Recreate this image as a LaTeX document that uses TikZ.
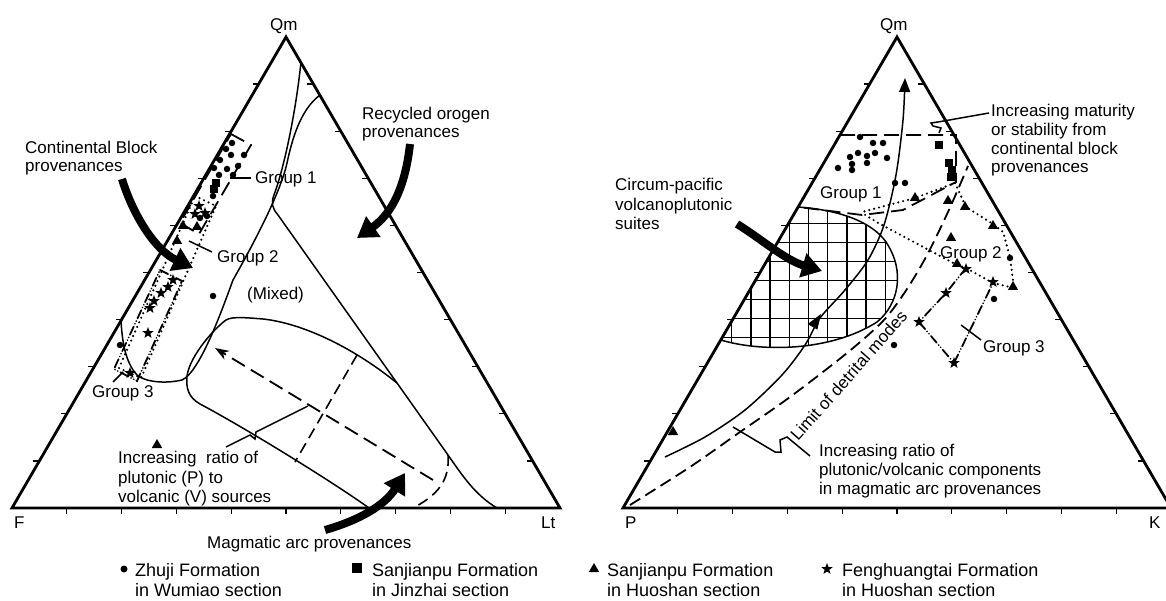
\documentclass[tikz,border=0pt]{standalone}
\usepackage{fontspec}
\setmainfont{Liberation Sans}
\usetikzlibrary{arrows.meta,shapes.geometric,calc}
\begin{document}
\begin{tikzpicture}[x=1pt,y=-1pt,
  frame/.style={line width=2.8pt,line join=miter},
  tickmark/.style={line width=1.3pt},
  bnd/.style={line width=1.5pt},
  grd/.style={line width=1.5pt},
  dsh/.style={line width=1.8pt,dash pattern=on 15pt off 7pt},
  dshs/.style={line width=1.6pt,dash pattern=on 11pt off 6pt},
  dshl/.style={line width=1.8pt,dash pattern=on 12pt off 6pt},
  dtl/.style={line width=2.4pt,dash pattern=on 0pt off 5pt,line cap=round},
  ddt/.style={line width=1.8pt,dash pattern=on 9pt off 3pt on 0pt off 3pt on 0pt off 3pt,line cap=round},
  pdot/.style={circle,fill=black,inner sep=0pt,minimum size=6.5pt},
  psq/.style={rectangle,fill=black,inner sep=0pt,minimum size=8.5pt},
  ptri/.style={regular polygon,regular polygon sides=3,fill=black,inner sep=0pt,minimum size=12pt},
  pstar/.style={star,star points=5,star point ratio=2.4,fill=black,inner sep=0pt,minimum size=12pt},
  bigarr/.style={line width=8pt,-{Triangle[length=20pt,width=24pt]}},
  lbl/.style={font=\fontsize{17}{20}\selectfont,inner sep=0pt,anchor=base west},
  leg/.style={font=\fontsize{18}{21}\selectfont,inner sep=0pt,anchor=base west},
]
\useasboundingbox (0,0) rectangle (1166,601);

% ================= LEFT TRIANGLE =================
\coordinate (F) at (12,508);
\coordinate (Lt) at (560,508);
\coordinate (QmL) at (286,37);
\draw[frame] (F) -- (Lt) -- (QmL) -- cycle;
\foreach \k in {1,...,9} {
  \draw[tickmark] ($(F)!\k/10!(QmL)$) -- ++(-6,0);
  \draw[tickmark] ($(Lt)!\k/10!(QmL)$) -- ++(-6,0);
  \draw[tickmark] ($(F)!\k/10!(Lt)$) -- ++(0,6);
}
\node[lbl] (tQmL) at (270,31) {Qm};
\node[lbl] (tF) at (14,528) {F};
\node[lbl] (tLt) at (541,528) {Lt};

% field boundaries
\draw[bnd] (301,62) .. controls (296,110) and (285,165) .. (274,195)
  .. controls (271,203) and (272,208) .. (278,215) -- (448,455)
  .. controls (462,475) and (475,495) .. (497,508);
\draw[bnd] (320,95) .. controls (300,110) and (292,140) .. (287,163)
  .. controls (280,195) and (250,250) .. (233,280)
  .. controls (222,310) and (200,372) .. (182,380)
  .. controls (165,384) and (145,382) .. (137,375)
  .. controls (125,362) and (122,340) .. (121,320);
% magmatic arc field
\draw[bnd] (369,508) .. controls (330,480) and (240,425) .. (200,404)
  .. controls (188,397) and (186,388) .. (187,376)
  .. controls (190,355) and (215,328) .. (226,320)
  .. controls (232,316) and (250,318) .. (263,319)
  .. controls (300,323) and (350,345) .. (397,383);
\draw[dshs] (448,455) .. controls (450,480) and (438,495) .. (413,508);
\draw[dshs] (357,355) -- (295,462);
\draw[dsh,-{Stealth[length=14pt,width=10pt]}] (433,480) -- (215,348);

% group outlines (left)
\draw[dsh] (231,134) -- (251,145) -- (199,234) -- (180,223) -- cycle;
\draw[dtl] (195,196) -- (216,206) -- (141,378) -- (119,368) -- cycle;
\draw[ddt] (160,270) -- (182,281) -- (137,381) -- (114,369) -- cycle;

% leaders (left)
\coordinate (g1a) at (230,178); \coordinate (g1b) at (251,178);
\draw[bnd] (g1a) -- (g1b);
\coordinate (g2a) at (189,241); \coordinate (g2b) at (212,252);
\draw[bnd] (g2a) -- (g2b);
\coordinate (g3a) at (113,382); \coordinate (g3b) at (123,372);
\draw[bnd] (g3a) -- (g3b);
\coordinate (ira) at (226,447); \coordinate (irb) at (308,406);
\draw[bnd] (ira) -- (250,435) -- (255,439) -- (256,432) -- (irb);

% data (left)
\foreach \x/\y [count=\i] in {232/143,226/149,244/155,231/155,220/160,238/166,214/168,227/169,233/175,219/175,213/196,207/216,200/218,120/345,213/296}
  \node[pdot] (ldot\i) at (\x,\y) {};
\foreach \x/\y [count=\i] in {216/183,214/189}
  \node[psq] (lsq\i) at (\x,\y) {};
\foreach \x/\y [count=\i] in {183/226,197/227,177/241,157/445}
  \node[ptri] (ltri\i) at (\x,\y) {};
\foreach \x/\y [count=\i] in {199/206,205/213,195/214,173/280,168/287,161/293,154/301,150/308,148/333,130/373}
  \node[pstar] (lstar\i) at (\x,\y) {};

% big arrows (left)
\draw[bigarr] (122,179) .. controls (133,215) and (155,250) .. (193,268);
\draw[bigarr] (410,144) .. controls (405,190) and (390,215) .. (357,238);
\draw[bigarr] (325,530) .. controls (360,520) and (385,505) .. (405,473);

% labels (left)
\node[lbl] (cb1) at (25,154) {Continental Block};
\node[lbl] (cb2) at (25,172) {provenances};
\node[lbl] (ro1) at (362,120) {Recycled orogen};
\node[lbl] (ro2) at (362,138) {provenances};
\node[lbl] (mx) at (247,299) {(Mixed)};
\node[lbl] (ir1) at (118,463) {Increasing\ \ ratio of};
\node[lbl] (ir2) at (118,483) {plutonic (P) to};
\node[lbl] (ir3) at (118,502) {volcanic (V) sources};
\node[lbl] (ma) at (207,548) {Magmatic arc provenances};
\node[lbl] (g1L) at (255,184) {Group 1};
\node[lbl] (g2L) at (217,263) {Group 2};
\node[lbl] (g3L) at (92,397) {Group 3};

% ================= RIGHT TRIANGLE =================
\coordinate (P) at (623,508);
\coordinate (K) at (1171,508);
\coordinate (QmR) at (897,37);

% hatched field
\begin{scope}
\clip (798,207) -- (721,340) .. controls (760,352) and (830,352) .. (877,322)
  .. controls (898,305) and (906,272) .. (886,242)
  .. controls (872,222) and (840,210) .. (798,207) -- cycle;
\foreach \gx in {0,...,10} \draw[grd] ({712.5+19.2*\gx},195) -- ++(0,170);
\foreach \gy in {0,...,7} \draw[grd] (700,{204.3+19*\gy}) -- ++(220,0);
\end{scope}
\draw[bnd] (798,207) -- (721,340) .. controls (760,352) and (830,352) .. (877,322)
  .. controls (898,305) and (906,272) .. (886,242)
  .. controls (872,222) and (840,210) .. (798,207);

\draw[frame] (P) -- (K) -- (QmR) -- cycle;
\foreach \k in {1,...,9} {
  \draw[tickmark] ($(P)!\k/10!(QmR)$) -- ++(-6,0);
  \draw[tickmark] ($(K)!\k/10!(QmR)$) -- ++(-6,0);
  \draw[tickmark] ($(P)!\k/10!(K)$) -- ++(0,6);
}
\node[lbl] (tQmR) at (880,31) {Qm};
\node[lbl] (tP) at (625,528) {P};
\node[lbl] (tK) at (1149,528) {K};

% trend arrow
\draw[bnd,-{Triangle[length=14pt,width=11pt]}] plot[smooth] coordinates {(665,457) (705,437) (745,410) (782,375) (805,345) (820,318) (845,290) (868,260) (884,225) (896,175) (903,120) (905,78)};
\fill (821,314) -- (817.3,329.6) -- (807.7,324.1) -- cycle;

% limit of detrital modes
\draw[dshl] plot[smooth] coordinates {(630,505) (690,467) (740,432) (790,397) (847,353) (883,321) (905,292) (926,257) (948,212) (968,166)};
\node[lbl,rotate=48.5] (lim) at (798,442) {Limit of detrital modes};

% group outlines (right)
\draw[dsh] (840,135) -- (956,135) -- (956,182) -- (903,210) -- (862,215) -- (798,207);
\draw[dtl] (955,183) -- (915,198) -- (862,212);
\draw[dtl] (955,183) -- (966,207) -- (993,224) -- (1003,232) -- (1010,257) -- (1014,288) -- (993,283) -- (966,268) -- (957,265) -- (880,224) -- (862,213);
\draw[ddt] (966,268) -- (946,293) -- (919,322) -- (954,363) -- (993,283);

% leaders (right)
\coordinate (ima) at (989,113); \coordinate (imb) at (939,133);
\draw[bnd] (ima) -- (938,122) -- (931,123) -- (933,126) -- (941,128) -- (imb);
\coordinate (rra) at (733,427); \coordinate (rrb) at (810,456);
\draw[bnd] (rra) -- (775,452) -- (781,452) -- (780,440) -- (787,437) -- (rrb);
\coordinate (g3ra) at (961,325); \coordinate (g3rb) at (981,340);
\draw[bnd] (g3ra) -- (g3rb);

% data (right)
\foreach \x/\y [count=\i] in {860/137,873/143,883/143,858/153,875/153,850/157,867/156,887/158,852/164,867/163,838/168,852/170,895/183,905/183,1010/258,994/299,894/345}
  \node[pdot] (rdot\i) at (\x,\y) {};
\foreach \x/\y [count=\i] in {939/145,949/163,952/170,951/177}
  \node[psq] (rsq\i) at (\x,\y) {};
\foreach \x/\y [count=\i] in {948/201,965/207,993/226,951/238,957/264,1013/287,673/432,915/198}
  \node[ptri] (rtri\i) at (\x,\y) {};
\foreach \x/\y [count=\i] in {966/269,993/282,946/293,919/322,954/363}
  \node[pstar] (rstar\i) at (\x,\y) {};

% big arrow (right)
\draw[bigarr] (737,224) .. controls (760,238) and (785,260) .. (822,271);

% labels (right)
\node[lbl] (im1) at (991,117) {Increasing maturity};
\node[lbl] (im2) at (991,136) {or stability from};
\node[lbl] (im3) at (991,155) {continental block};
\node[lbl] (im4) at (991,173) {provenances};
\node[lbl] (cp1) at (615,191) {Circum-pacific};
\node[lbl] (cp2) at (615,210.5) {volcanoplutonic};
\node[lbl] (cp3) at (615,230) {suites};
\node[lbl] (ip1) at (819,456) {Increasing ratio of};
\node[lbl] (ip2) at (819,475) {plutonic/volcanic components};
\node[lbl] (ip3) at (819,494) {in magmatic arc provenances};
\node[lbl] (g1R) at (820,199) {Group 1};
\node[lbl] (g2R) at (940,259) {Group 2};
\node[lbl] (g3R) at (983,352) {Group 3};

% ================= LEGEND =================
\node[pdot,minimum size=7pt] (k1) at (124,569) {};
\node[leg] (k1a) at (135,576) {Zhuji Formation};
\node[leg] (k1b) at (135,596) {in Wumiao section};
\node[psq,minimum size=10pt] (k2) at (357,568) {};
\node[leg] (k2a) at (372,576) {Sanjianpu Formation};
\node[leg] (k2b) at (372,596) {in Jinzhai section};
\node[ptri] (k3) at (594,569) {};
\node[leg] (k3a) at (607,576) {Sanjianpu Formation};
\node[leg] (k3b) at (607,596) {in Huoshan section};
\node[pstar] (k4) at (827,569) {};
\node[leg] (k4a) at (842,576) {Fenghuangtai Formation};
\node[leg] (k4b) at (842,596) {in Huoshan section};
\end{tikzpicture}
\end{document}
